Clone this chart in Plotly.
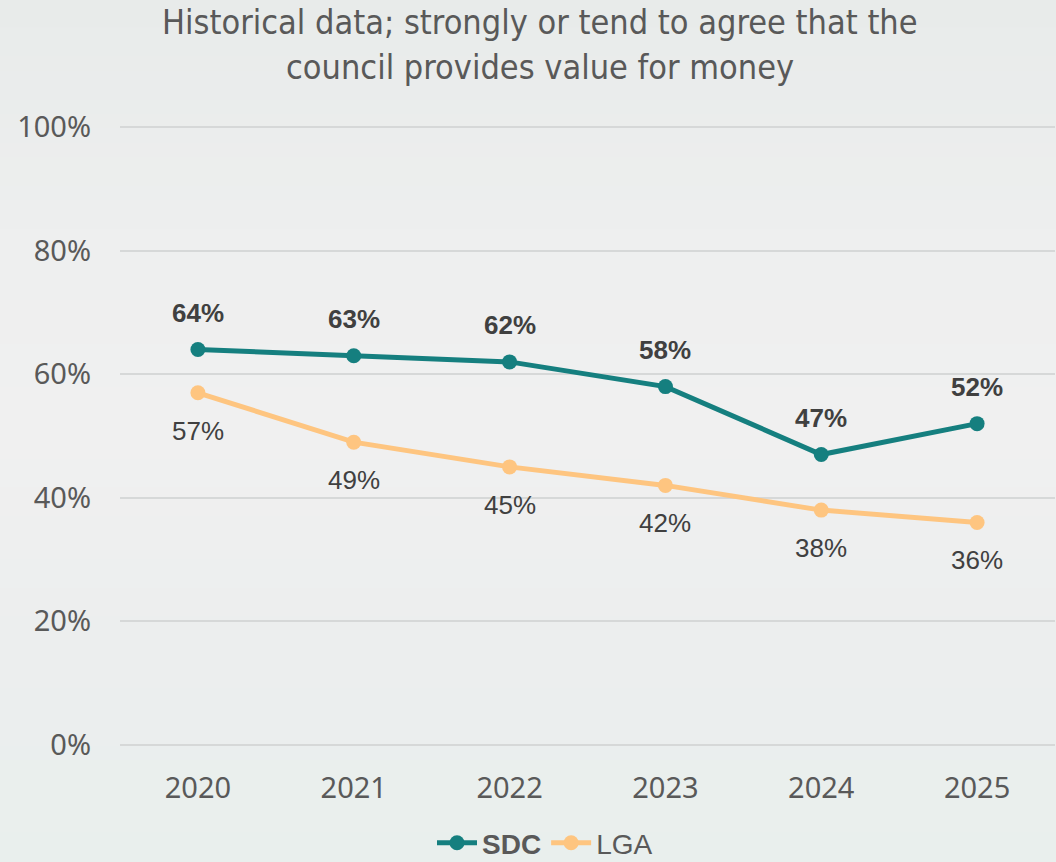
import plotly.graph_objects as go

years = ["2020", "2021", "2022", "2023", "2024", "2025"]
sdc = [64, 63, 62, 58, 47, 52]
lga = [57, 49, 45, 42, 38, 36]
y_ticks = [0, 20, 40, 60, 80, 100]
y_tick_text = ["0%", "20%", "40%", "60%", "80%", "100%"]
title_lines = ["Historical data; strongly or tend to agree that the",
               "council provides value for money"]

TEAL = "#157f7f"
PEACH = "#fec580"
LABEL = "#404040"
AXIS_TXT = "#595959"
W, H = 1056, 862
M_L, M_R, M_T, M_B = 120, 1, 126, 116

fig = go.Figure()

fig.add_trace(go.Scatter(
    x=years, y=sdc, name="<b>SDC</b>", mode="lines+markers",
    line=dict(color=TEAL, width=5), marker=dict(color=TEAL, size=15),
    cliponaxis=False,
))
fig.add_trace(go.Scatter(
    x=years, y=lga, name="LGA", mode="lines+markers",
    line=dict(color=PEACH, width=5), marker=dict(color=PEACH, size=15),
    cliponaxis=False,
))

annotations = []
# value labels: bold above SDC points, regular below LGA points
# (x given as category index so numeric-looking year strings are not read as numbers)
for i, v in enumerate(sdc):
    annotations.append(dict(x=i, y=v, xref="x", yref="y", text=f"<b>{v}%</b>", showarrow=False,
                            yshift=37, font=dict(family="Liberation Sans, Arial", size=26, color=LABEL)))
for i, v in enumerate(lga):
    annotations.append(dict(x=i, y=v, xref="x", yref="y", text=f"{v}%", showarrow=False,
                            yshift=-38, font=dict(family="Liberation Sans, Arial", size=26, color=LABEL)))

# two-line chart title
for i, line in enumerate(title_lines):
    annotations.append(dict(
        xref="paper", yref="paper", x=(540 - M_L) / (W - M_L - M_R),
        y=(H - M_B - (22 + 45 * i)) / (H - M_T - M_B), yanchor="middle", xanchor="center",
        text=line, showarrow=False,
        font=dict(family="DejaVu Sans Condensed, Liberation Sans Narrow, sans-serif", size=34, color=AXIS_TXT),
    ))

# soft vertical background gradient built from thin bands
stops = [(0.0, (232, 235, 234)), (0.3, (238, 239, 239)), (0.5, (240, 240, 240)),
         (0.75, (236, 238, 238)), (1.0, (233, 239, 237))]
n = 60
ph = H - M_T - M_B
bands = []
for i in range(n):
    t = (i + 0.5) / n
    for j in range(len(stops) - 1):
        if stops[j][0] <= t <= stops[j + 1][0]:
            a, ca = stops[j]
            b, cb = stops[j + 1]
            f = (t - a) / (b - a)
            c = tuple(round(ca[k] + (cb[k] - ca[k]) * f) for k in range(3))
            break
    y1 = (H - M_B - H * i / n) / ph
    y0 = (H - M_B - H * (i + 1) / n) / ph
    bands.append(dict(type="rect", xref="paper", yref="paper", layer="below",
                      x0=-M_L / (W - M_L - M_R) - 0.01, x1=1.01,
                      y0=y0 - 0.002, y1=y1 + 0.002,
                      fillcolor=f"rgb{c}", line=dict(width=0)))

fig.update_layout(
    width=W, height=H,
    margin=dict(l=M_L, r=M_R, t=M_T, b=M_B, autoexpand=False),
    paper_bgcolor="#eeefef",
    plot_bgcolor="rgba(0,0,0,0)",
    xaxis=dict(
        type="category", range=[-0.5, 5.5], showgrid=False, zeroline=False,
        showline=False, ticks="", ticklabelstandoff=22, automargin=False,
        tickfont=dict(family="Noto Sans, Open Sans", size=29, color=AXIS_TXT),
    ),
    yaxis=dict(
        range=[-0.2, 100.2], tickvals=y_ticks, ticktext=y_tick_text,
        showgrid=True, gridcolor="#d6d8d8", gridwidth=2, zeroline=False,
        showline=False, ticks="", ticklabelstandoff=28, automargin=False,
        tickfont=dict(family="Noto Sans, Open Sans", size=29, color=AXIS_TXT),
    ),
    legend=dict(
        orientation="h", x=(545 - M_L) / (W - M_L - M_R), xanchor="center",
        y=-(818 - (H - M_B)) / ph, yanchor="top",
        font=dict(family="Liberation Sans, Arial", size=28, color=AXIS_TXT),
        bgcolor="rgba(0,0,0,0)", itemwidth=40, borderwidth=0,
    ),
    showlegend=True,
    annotations=annotations,
    shapes=bands,
)

fig.write_html("out.html")
